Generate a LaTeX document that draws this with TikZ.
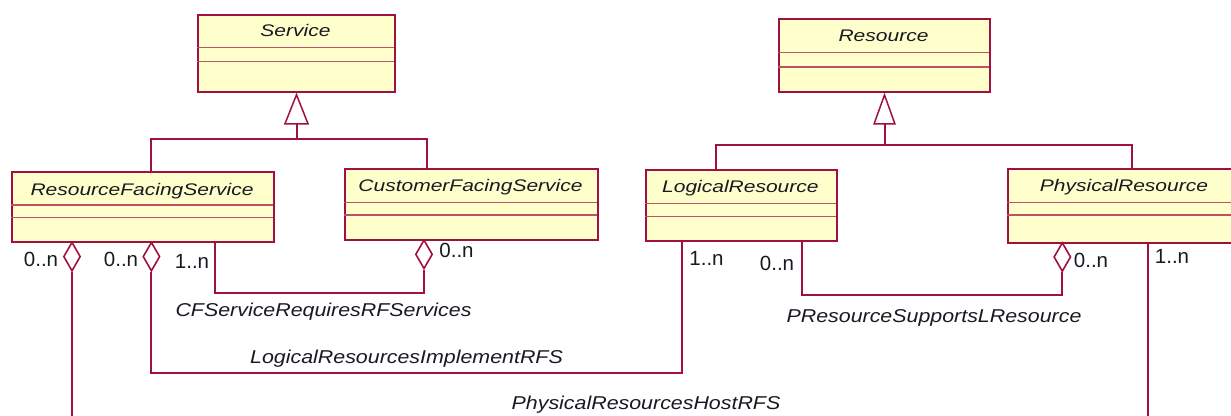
\documentclass[tikz,border=0pt]{standalone}
\usepackage{graphicx}
\usepackage{fontspec}
\setmainfont{Liberation Sans}
\usetikzlibrary{arrows.meta,shapes.geometric,calc}
\definecolor{umlred}{RGB}{160,16,64}
\definecolor{umlfill}{RGB}{255,255,204}
\definecolor{umlsep}{RGB}{190,80,105}
\definecolor{umltext}{RGB}{25,25,35}
\newcommand{\clsname}[1]{\scalebox{1.25}[1]{\fontsize{16.8}{20}\selectfont\itshape #1}}
\newcommand{\assocname}[1]{\scalebox{1.15}[1]{\fontsize{18.6}{22}\selectfont\itshape #1}}
\tikzset{
  cls/.style={draw=umlred, fill=umlfill, line width=2pt, rectangle, inner sep=0pt, anchor=north west},
  sepline/.style={draw=umlsep, line width=1.3pt},
  conn/.style={draw=umlred, line width=2pt},
  agg/.style={diamond, draw=umlred, fill=white, line width=1.6pt, minimum width=17pt, minimum height=29pt, inner sep=0pt, anchor=north},
  gen/.style={conn, -{Triangle[fill=white, line width=1.5pt, length=32pt, width=#1]}},
  ttl/.style={anchor=base, inner sep=0pt, text=umltext},
  mult/.style={anchor=base, inner sep=0pt, text=umltext, font=\fontsize{20.5}{24}\selectfont},
  assoc/.style={anchor=base, inner sep=0pt, text=umltext}
}
\begin{document}
\begin{tikzpicture}[x=1pt, y=-1pt]
\useasboundingbox (0,0) rectangle (1231,415);
\clip (0,0) rectangle (1231,415);
\fill[white] (0,0) rectangle (1231,415);

% ---- classes ----
\node[cls, minimum width=197pt, minimum height=77.2pt] (service) at (197,13.5) {};
\draw[sepline] (197,47.7) -- (394,47.7);
\draw[sepline] (197,61.7) -- (394,61.7);
\node[ttl] (serviceT) at (295.5,36.8) {\clsname{Service}};

\node[cls, minimum width=262pt, minimum height=70.6pt] (rfs) at (11,170.7) {};
\draw[sepline] (11,205) -- (273,205);
\draw[sepline] (11,217.7) -- (273,217.7);
\node[ttl] (rfsT) at (142,195) {\clsname{ResourceFacingService}};

\node[cls, minimum width=253pt, minimum height=71.3pt] (cfs) at (344,167.7) {};
\draw[sepline] (344,202.3) -- (597,202.3);
\draw[sepline] (344,215) -- (597,215);
\node[ttl] (cfsT) at (470.5,191) {\clsname{CustomerFacingService}};

\node[cls, minimum width=211pt, minimum height=72.4pt] (res) at (778,18.3) {};
\draw[sepline] (778,52.7) -- (989,52.7);
\draw[sepline] (778,67) -- (989,67);
\node[ttl] (resT) at (883.5,41.5) {\clsname{Resource}};

\node[cls, minimum width=191.8pt, minimum height=70.7pt] (lr) at (644.5,169.3) {};
\draw[sepline] (644.5,203.7) -- (836.3,203.7);
\draw[sepline] (644.5,216.7) -- (836.3,216.7);
\node[ttl] (lrT) at (740.4,192.5) {\clsname{LogicalResource}};

\node[cls, minimum width=234pt, minimum height=74pt] (pr) at (1007,167.7) {};
\draw[sepline] (1007,202.3) -- (1241,202.3);
\draw[sepline] (1007,215) -- (1241,215);
\node[ttl] (prT) at (1124,191) {\clsname{PhysicalResource}};

% ---- generalizations ----
\coordinate (sj) at (service.south |- 0,138.7);
\coordinate (g1a) at (150.6,138.7);
\coordinate (g1b) at (427,138.7);
\draw[conn] (rfs.north -| g1a) -- (g1a) -- (g1b) -- (cfs.north -| g1b);
\draw[gen=25pt] (sj) -- (service.south);

\coordinate (rj) at (res.south |- 0,145);
\coordinate (g2a) at (715.5,145);
\coordinate (g2b) at (1131.7,145);
\draw[conn] (lr.north -| g2a) -- (g2a) -- (g2b) -- (pr.north -| g2b);
\draw[gen=22.6pt] (rj) -- (res.south);

% ---- aggregation diamonds ----
\node[agg] (d1) at (72,241.3) {};
\node[agg] (d2) at (151.4,241.3) {};
\node[agg] (d3) at (424,239) {};
\node[agg] (d4) at (1062.3,241.7) {};

% ---- associations ----
\coordinate (c1) at (215.4,293.3);
\draw[conn] (rfs.south -| c1) -- (c1) -| (d3.south);

\coordinate (c2) at (682.4,373.3);
\draw[conn] (d2.south) |- (c2) -- (lr.south -| c2);

\coordinate (e1) at (72,425);
\draw[conn] (d1.south) -- (d1.south |- e1);
\coordinate (e2) at (1148,425);
\draw[conn] (pr.south -| e2) -- (e2);

\coordinate (c4) at (802.4,295);
\draw[conn] (lr.south -| c4) -- (c4) -| (d4.south);

% ---- multiplicities ----
\node[mult] (m1) at (41,266) {0..n};
\node[mult] (m2) at (121,266) {0..n};
\node[mult] (m3) at (192,268) {1..n};
\node[mult] (m4) at (456.5,257) {0..n};
\node[mult] (m5) at (706.5,265.5) {1..n};
\node[mult] (m6) at (777,270) {0..n};
\node[mult] (m7) at (1091,267) {0..n};
\node[mult] (m8) at (1172,263) {1..n};

% ---- association names ----
\node[assoc] (a1) at (323.5,316) {\assocname{CFServiceRequiresRFServices}};
\node[assoc] (a2) at (406.5,363) {\assocname{LogicalResourcesImplementRFS}};
\node[assoc] (a3) at (934,322) {\assocname{PResourceSupportsLResource}};
\node[assoc] (a4) at (646,409) {\assocname{PhysicalResourcesHostRFS}};
\end{tikzpicture}
\end{document}
